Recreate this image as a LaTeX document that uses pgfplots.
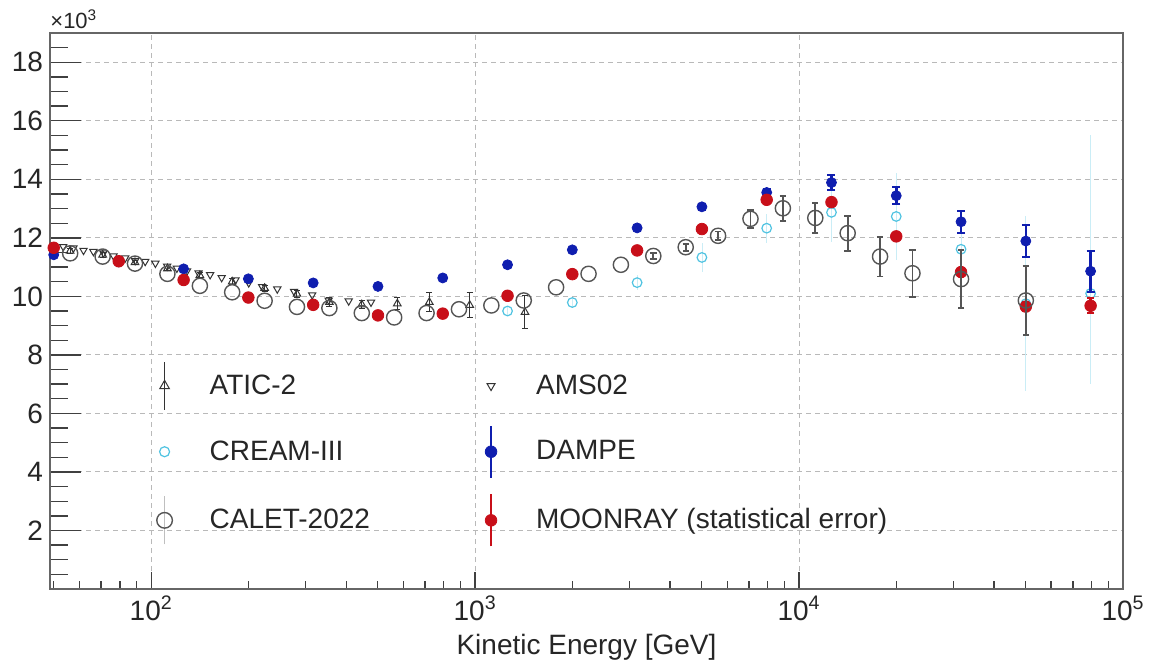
\documentclass[border=0pt]{standalone}
\usepackage{pgfplots}
\pgfplotsset{compat=1.18}
\usepackage{fontspec}
\setmainfont{Liberation Sans}
\definecolor{dampe}{RGB}{15,30,175}
\definecolor{moon}{RGB}{200,15,25}
\definecolor{cream}{RGB}{80,195,225}
\definecolor{calet}{RGB}{85,85,85}
\definecolor{gridc}{RGB}{185,185,185}
\begin{document}
\begin{tikzpicture}
\begin{axis}[
  scale only axis, width=536.5pt, height=278pt,
  xmode=log, xmin=48.7, xmax=1e5, ymin=0, ymax=19,
  xtick={100,1000,10000,100000},
  xticklabels={10\textsuperscript{2},10\textsuperscript{3},10\textsuperscript{4},10\textsuperscript{5}},
  minor xtick={50,60,70,80,90,200,300,400,500,600,700,800,900,2000,3000,4000,5000,6000,7000,8000,9000,20000,30000,40000,50000,60000,70000,80000,90000},
  ytick={0,2,...,18}, yticklabels={,2,4,6,8,10,12,14,16,18},
  minor ytick={0.5,1,...,18.5},
  tick pos=left, tick align=inside,
  xtick style={black!75, line width=0.7pt, /pgfplots/major tick length=8.5pt, /pgfplots/minor tick length=4pt},
  ytick style={black!75, line width=0.7pt, /pgfplots/major tick length=15.5pt, /pgfplots/minor tick length=9pt},
  axis line style={black!60, line width=0.8pt},
  grid=major,
  major grid style={gridc, dash pattern=on 2.5pt off 2pt, line width=0.5pt},
  ticklabel style={font=\fontsize{14}{16}\selectfont, black!85},
  xlabel={Kinetic Energy [GeV]},
  xlabel style={font=\fontsize{14}{16}\selectfont, black!85},
  clip mode=individual,
  legend columns=2,
  legend cell align=left,
  legend style={draw=none, fill=none, at={(0.0905,0.41)}, anchor=north west, inner sep=0pt,
    row sep=7pt, font=\fontsize{14}{16}\selectfont,
    nodes={text=black!85},
    /tikz/every odd column/.append style={column sep=12pt},
    /tikz/every even column/.append style={column sep=50pt}},
]
\coordinate (bl) at (rel axis cs:0,0);
\coordinate (tr) at (rel axis cs:1,1);

% ATIC-2
\addplot[only marks, mark=triangle, mark size=2.2pt, black!80, mark options={line width=0.5pt},
  error bars/.cd, y dir=both, y explicit,
  error bar style={black!80, line width=0.5pt},
  error mark options={mark size=1.5pt, line width=0.5pt, rotate=90},
  /pgfplots/legend image code/.code={\path[draw=none,fill=none] (0cm,-12pt) rectangle (0.6cm,12pt);
    \draw[black!80, line width=0.5pt] (0.3cm,-12pt)--(0.3cm,12pt);
    \draw[black!80, line width=0.5pt] plot[mark=triangle, mark size=2.8pt] coordinates {(0.3cm,0cm)};}]
coordinates {
(56.2,11.55) +- (0,0.08)
(70.8,11.42) +- (0,0.08)
(89.1,11.16) +- (0,0.08)
(112.2,10.95) +- (0,0.08)
(141.3,10.72) +- (0,0.1)
(177.8,10.50) +- (0,0.1)
(223.9,10.28) +- (0,0.1)
(281.8,10.08) +- (0,0.12)
(354.8,9.80) +- (0,0.15)
(446.7,9.72) +- (0,0.15)
(575,9.75) +- (0,0.2)
(722,9.80) +- (0,0.33)
(962,9.70) +- (0,0.42)
(1425,9.46) +- (0,0.57)
};
\addlegendentry{ATIC-2}

% AMS02
\addplot[only marks, mark=triangle, mark size=2.1pt, black!80, mark options={rotate=180, line width=0.5pt},
  /pgfplots/legend image code/.code={\path[draw=none,fill=none] (0cm,-12pt) rectangle (0.6cm,12pt);
    \draw[black!80, line width=0.5pt] plot[mark=triangle, mark size=2.3pt, mark options={rotate=180}] coordinates {(0.3cm,0cm)};}]
coordinates {
(53.5,11.70) (57.5,11.65) (61.8,11.57) (66.3,11.53) (71.2,11.48) (76.5,11.38)
(83.1,11.31) (89.2,11.22) (95.8,11.19) (103,11.13) (112,11.03) (120,10.96)
(129,10.87) (140,10.80) (152,10.74) (165,10.64) (182,10.56) (200,10.46)
(220,10.33) (245,10.25) (276,10.17) (314,10.05) (353,9.87) (407,9.84) (477,9.80)
};
\addlegendentry{AMS02}

% CREAM-III
\addplot[only marks, mark=o, mark size=2.4pt, cream, mark options={line width=0.6pt},
  error bars/.cd, y dir=both, y explicit,
  error bar style={cream!30, line width=0.4pt},
  error mark options={mark size=0pt},
  /pgfplots/legend image code/.code={\path[draw=none,fill=none] (0cm,-12pt) rectangle (0.6cm,12pt);
    \draw[cream, line width=0.6pt] plot[mark=o, mark size=2.5pt] coordinates {(0.3cm,0cm)};}]
coordinates {
(1258.9,9.50) +- (0,0.15)
(1995.3,9.79) +- (0,0.2)
(3162.3,10.47) +- (0,0.25)
(5011.9,11.33) +- (0,0.5)
(7943.3,12.33) +- (0,0.5)
(12589,12.87) +- (0,1.0)
(19953,12.73) +- (0,1.5)
(31623,11.61) +- (0,1.3)
(50119,9.75) +- (0,3.0)
(79433,10.1) += (0,5.4) -= (0,3.1)
};
\addlegendentry{CREAM-III}

% DAMPE
\addplot[only marks, mark=*, mark size=2.5pt, dampe,
  error bars/.cd, y dir=both, y explicit,
  error bar style={dampe, line width=1.3pt},
  error mark options={mark size=2pt, line width=1pt, rotate=90},
  /pgfplots/legend image code/.code={\path[draw=none,fill=none] (0cm,-12pt) rectangle (0.6cm,12pt);
    \draw[dampe, line width=1.3pt] (0.3cm,-13pt)--(0.3cm,13pt);
    \fill[dampe] plot[mark=*, mark size=2.9pt] coordinates {(0.3cm,0cm)};}]
coordinates {
(50,11.42) +- (0,0.03)
(79.4,11.18) +- (0,0.03)
(125.9,10.94) +- (0,0.03)
(199.5,10.60) +- (0,0.03)
(316.2,10.46) +- (0,0.03)
(501.2,10.34) +- (0,0.04)
(794.3,10.63) +- (0,0.05)
(1258.9,11.08) +- (0,0.06)
(1995.3,11.59) +- (0,0.07)
(3162.3,12.34) +- (0,0.08)
(5011.9,13.06) +- (0,0.1)
(7943.3,13.55) +- (0,0.13)
(12589,13.89) +- (0,0.25)
(19953,13.44) +- (0,0.29)
(31623,12.55) +- (0,0.37)
(50119,11.89) +- (0,0.55)
(79433,10.86) +- (0,0.70)
};
\addlegendentry{DAMPE}

% CALET-2022 (low energies)
\addplot[only marks, mark=o, mark size=3.8pt, calet, mark options={line width=0.7pt},
  /pgfplots/legend image code/.code={\path[draw=none,fill=none] (0cm,-12pt) rectangle (0.6cm,12pt);
    \draw[black!25, line width=0.4pt] (0.3cm,-12pt)--(0.3cm,12pt);
    \draw[calet, line width=0.7pt, fill=white] plot[mark=o, mark size=3.9pt, mark options={fill=white}] coordinates {(0.3cm,0cm)};}]
coordinates {
(56.2,11.47) (70.8,11.36) (89.1,11.12) (112.2,10.77) (141.3,10.36) (177.8,10.14)
(223.9,9.85) (281.8,9.64) (354.8,9.60) (446.7,9.43) (562.3,9.28) (707.9,9.43)
(891.3,9.56) (1122,9.69) (1412.5,9.86) (1778,10.31) (2239,10.77) (2818,11.08)
};
\addlegendentry{CALET-2022}

% MOONRAY
\addplot[only marks, mark=*, mark size=2.9pt, moon,
  error bars/.cd, y dir=both, y explicit,
  error bar style={moon, line width=1.2pt},
  error mark options={mark size=1.8pt, line width=1pt, rotate=90},
  /pgfplots/legend image code/.code={\path[draw=none,fill=none] (0cm,-12pt) rectangle (0.6cm,12pt);
    \draw[moon, line width=1.3pt] (0.3cm,-13pt)--(0.3cm,13pt);
    \fill[moon] plot[mark=*, mark size=2.9pt] coordinates {(0.3cm,0cm)};}]
coordinates {
(50,11.66) +- (0,0.02)
(79.4,11.20) +- (0,0.02)
(125.9,10.56) +- (0,0.02)
(199.5,9.96) +- (0,0.02)
(316.2,9.71) +- (0,0.02)
(501.2,9.35) +- (0,0.02)
(794.3,9.41) +- (0,0.02)
(1258.9,10.02) +- (0,0.03)
(1995.3,10.76) +- (0,0.03)
(3162.3,11.57) +- (0,0.03)
(5011.9,12.30) +- (0,0.04)
(7943.3,13.30) +- (0,0.04)
(12589,13.22) +- (0,0.05)
(19953,12.05) +- (0,0.07)
(31623,10.83) +- (0,0.1)
(50119,9.65) +- (0,0.15)
(79433,9.68) +- (0,0.25)
};
\addlegendentry{MOONRAY (statistical error)}

% CALET-2022 (high energies, with errors)
\addplot[forget plot, only marks, mark=o, mark size=3.8pt, calet, mark options={line width=0.7pt, fill=white},
  error bars/.cd, y dir=both, y explicit,
  error bar style={calet, line width=0.9pt},
  error mark options={mark size=1.6pt, line width=0.9pt, rotate=90}]
coordinates {
(3548,11.38) +- (0,0.1)
(4467,11.68) +- (0,0.12)
(5623,12.07) +- (0,0.15)
(7079,12.65) +- (0,0.3)
(8913,13.01) +- (0,0.43)
(11220,12.68) +- (0,0.52)
(14125,12.16) +- (0,0.6)
(17783,11.36) +- (0,0.68)
(22387,10.79) +- (0,0.8)
(31623,10.59) +- (0,1.0)
(50119,9.86) +- (0,1.17)
};

\node[anchor=south west, inner sep=0pt, font=\fontsize{11}{13}\selectfont, black!85] at (rel axis cs:0,1) {\raisebox{2pt}{×10\textsuperscript{3}}};
\end{axis}
\pgfresetboundingbox
\path ([xshift=-25pt,yshift=-35pt]bl) rectangle ([xshift=14pt,yshift=16.5pt]tr);
\end{tikzpicture}
\end{document}
